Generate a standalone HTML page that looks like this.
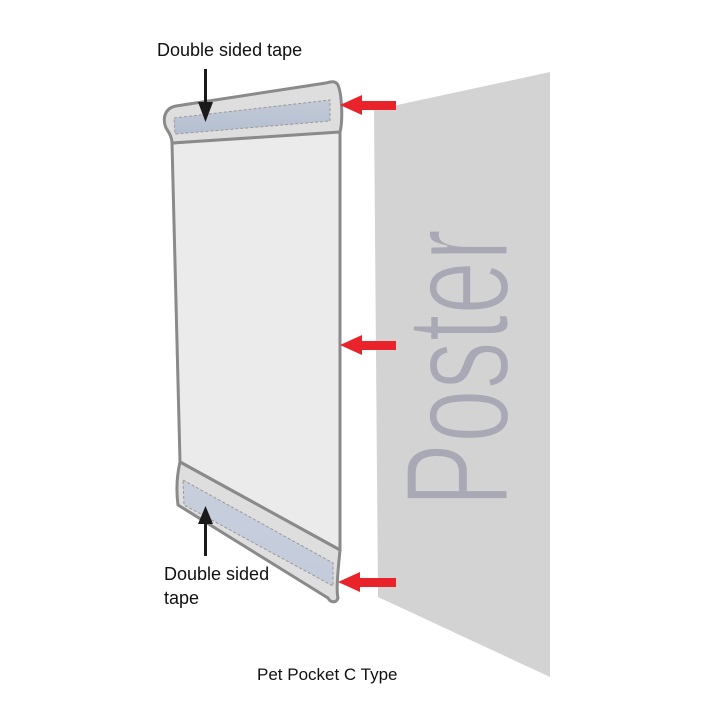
<!DOCTYPE html>
<html><head><style>body{margin:0;background:#fff}svg{display:block}</style></head><body>
<svg width="720" height="720" viewBox="0 0 720 720" xmlns="http://www.w3.org/2000/svg" font-family="Liberation Sans, sans-serif">
<defs>
<linearGradient id="tg" x1="0" y1="0" x2="0" y2="1"><stop offset="0" stop-color="#c4cad6"/><stop offset="1" stop-color="#b3bfd2"/></linearGradient>
<linearGradient id="tg2" x1="0" y1="0" x2="0" y2="1"><stop offset="0" stop-color="#c7cedc"/><stop offset="1" stop-color="#c4ccdb"/></linearGradient>
</defs>
<polygon points="374,110 550,72 550,677 378,597" fill="#d3d3d3"/>
<text transform="translate(508,507) rotate(-90)" font-size="148" textLength="278" lengthAdjust="spacingAndGlyphs" fill="#a9a9b5" stroke="#d3d3d3" stroke-width="3">Poster</text>
<polygon points="172,143 340,130 340,550 180,462" fill="#ebebeb" stroke="#8a8a8a" stroke-width="3" stroke-linejoin="round"/>
<path d="M172,143 L340,132 C343,120 342,95 338,85 C335,80 330,82 326,83 L176,106 C165,108 162,118 166,128 C170,134 172,138 172,143 Z" fill="#dedede" stroke="#8a8a8a" stroke-width="3" stroke-linejoin="round"/>
<polygon points="174,118 330,100 330,121 175,134" fill="url(#tg)" stroke="#999" stroke-width="1" stroke-dasharray="3,2"/>
<path d="M180,462 L340,550 C338,570 336,590 338,598 C336,604 330,602 328,598 L178,505 C176,490 177,475 180,462 Z" fill="#dedede" stroke="#8a8a8a" stroke-width="3" stroke-linejoin="round"/>
<polygon points="183,480 333,563 333,586 184,505" fill="url(#tg2)" stroke="#999" stroke-width="1" stroke-dasharray="3,2"/>
<g fill="#e8242a">
<polygon points="340,105 362,95 362,101 396,101 396,110 362,110 362,115"/>
<polygon points="340,345 362,335 362,341 396,341 396,350 362,350 362,355"/>
<polygon points="338,582 360,572 360,578 396,578 396,587 360,587 360,592"/>
</g>
<g fill="#1a1a1a">
<rect x="204" y="69" width="3" height="36"/>
<polygon points="198,102 213,102 205.5,122"/>
<rect x="204" y="520" width="3" height="36"/>
<polygon points="198,524 213,524 205.5,506"/>
</g>
<g font-size="18" fill="#111">
<text x="157" y="56">Double sided tape</text>
<text x="164" y="580">Double sided</text>
<text x="164" y="604">tape</text>
<text x="257" y="680" font-size="17">Pet Pocket C Type</text>
</g>
</svg>
</body></html>
